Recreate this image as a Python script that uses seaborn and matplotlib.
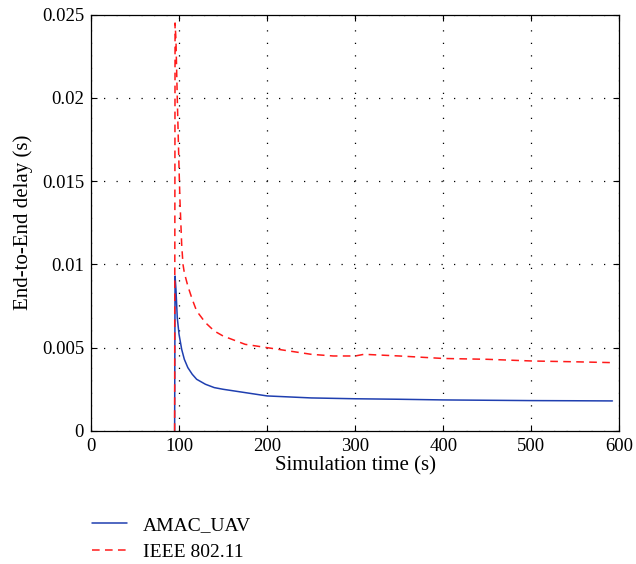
import matplotlib
matplotlib.use("Agg")
import matplotlib.pyplot as plt
import seaborn as sns
import pandas as pd

# simulation time (s) and end-to-end delay (s)
amac_t = [95, 95.5, 96.5, 98, 100, 103, 106, 110, 115, 120, 130, 140, 150, 175, 200,
          250, 300, 350, 400, 450, 500, 550, 592]
amac_d = [0, 0.0093, 0.0085, 0.0068, 0.0058, 0.0049, 0.0043, 0.0038, 0.0034, 0.0031,
          0.0028, 0.0026, 0.0025, 0.0023, 0.0021, 0.00198, 0.00193, 0.0019, 0.00186,
          0.00184, 0.00182, 0.00181, 0.0018]

ieee_t = [95, 95.5, 96.5, 98, 100, 101, 103, 104.5, 106, 110, 115, 120, 130, 140, 150,
          175, 200, 225, 250, 275, 300, 310, 350, 400, 450, 500, 550, 592]
ieee_d = [0, 0.0245, 0.0235, 0.02, 0.0158, 0.0139, 0.0112, 0.01, 0.0095, 0.0087,
          0.0079, 0.0072, 0.0065, 0.006, 0.0057, 0.0052, 0.005, 0.0048, 0.0046, 0.0045,
          0.0045, 0.0046, 0.0045, 0.00435, 0.0043, 0.0042, 0.00415, 0.0041]

df = pd.concat([
    pd.DataFrame({"t": amac_t, "d": amac_d, "s": "AMAC_UAV"}),
    pd.DataFrame({"t": ieee_t, "d": ieee_d, "s": "IEEE 802.11"}),
])

sns.set_style("ticks")
plt.rcParams["font.family"] = ["Liberation Serif", "DejaVu Serif"]
plt.rcParams["text.color"] = "black"
plt.rcParams["axes.labelcolor"] = "black"
plt.rcParams["xtick.direction"] = "in"
plt.rcParams["ytick.direction"] = "in"

fig = plt.figure(figsize=(6.36, 5.64), dpi=100)
ax = fig.add_axes([0.143, 0.236, 0.831, 0.738])

sns.lineplot(data=df, x="t", y="d", hue="s", style="s",
             palette={"AMAC_UAV": "#1f3fb0", "IEEE 802.11": "#ff1a1a"},
             dashes={"AMAC_UAV": "", "IEEE 802.11": (5, 3.5)},
             estimator=None, sort=False, linewidth=1.1, ax=ax)

ax.set_xlim(0, 600)
ax.set_ylim(0, 0.025)
ax.set_xticks([0, 100, 200, 300, 400, 500, 600])
ax.set_yticks([0, 0.005, 0.01, 0.015, 0.02, 0.025])
ax.set_yticklabels(["0", "0.005", "0.01", "0.015", "0.02", "0.025"])
ax.tick_params(labelsize=13.5, top=True, right=True, length=4, width=0.8,
               colors="black", pad=5)
ax.grid(True, color="black", linestyle=(0, (1, 9)), linewidth=0.9)
for sp in ax.spines.values():
    sp.set_visible(True)
    sp.set_color("black")
    sp.set_linewidth(0.9)
ax.set_xlabel("Simulation time (s)", fontsize=15, labelpad=1)
ax.set_ylabel("End-to-End delay (s)", fontsize=15, labelpad=6)

handles, labels = ax.get_legend_handles_labels()
ax.legend(handles, labels, loc="upper left", bbox_to_anchor=(0.002, -0.205),
          frameon=False, fontsize=14, handlelength=1.8, handletextpad=0.8,
          labelspacing=0.5, borderaxespad=0, borderpad=0)

plt.savefig("out.png", dpi=100)
